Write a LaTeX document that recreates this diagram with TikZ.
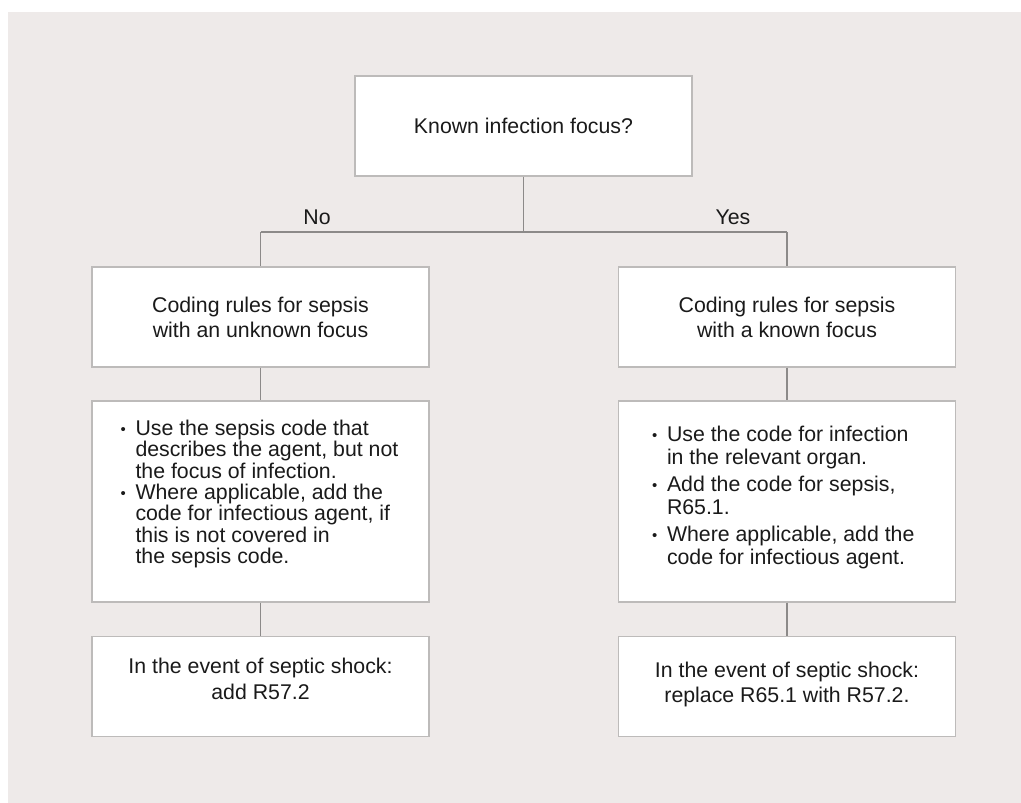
\documentclass[tikz,border=0pt]{standalone}
\usepackage{fontspec}
\setmainfont{Liberation Sans}
\definecolor{bg}{HTML}{EEEAE9}
\definecolor{boxline}{HTML}{BDBBBA}
\definecolor{conn}{HTML}{8C8A89}
\definecolor{txt}{HTML}{1A1A1A}
\newcommand{\bitem}[1]{\par\hangindent=15pt\hangafter=1\noindent\makebox[15pt][l]{\raisebox{1pt}{\scalebox{0.7}{\textbullet}}}#1}
\begin{document}
\begin{tikzpicture}[x=1pt,y=-1pt,
  box/.style={draw=boxline,line width=1.1pt,fill=white,text=txt,inner sep=0pt,
    font=\fontsize{21.3}{25}\selectfont},
  hbox/.style={box,minimum width=337pt,minimum height=100pt,align=center},
  lbox/.style={box,minimum width=337pt,minimum height=201pt},
  conn/.style={draw=conn,line width=1.1pt},
  lab/.style={text=txt,font=\fontsize{21.3}{25}\selectfont,inner sep=0pt},
  txtn/.style={lab,align=center}]
\useasboundingbox (0,0) rectangle (1021,803);
\fill[bg] (8,12) rectangle (1021,803);
\node[hbox] (top) at (523.5,126) {Known infection focus?};
\node[hbox] (l1) at (260.5,317) {Coding rules for sepsis\\with an unknown focus};
\node[hbox] (r1) at (787,317) {Coding rules for sepsis\\with a known focus};
\node[lbox] (l2) at (260.5,501.5) {};
\node[lbox] (r2) at (787,501.5) {};
\node[hbox] (l3) at (260.5,686.5) {};
\node[hbox] (r3) at (787,686.5) {};
\node[lab] (l2t) at (270.5,494) {\begin{minipage}{300pt}\fontsize{21.3}{21.4}\selectfont
\bitem{Use the sepsis code that\\describes the agent, but not\\the focus of infection.}
\bitem{Where applicable, add the\\code for infectious agent, if\\this is not covered in\\the sepsis code.}
\end{minipage}};
\node[lab] (r2t) at (787,497.5) {\begin{minipage}{270pt}\fontsize{21.3}{23}\selectfont\parskip=4pt
\bitem{Use the code for infection\\in the relevant organ.}
\bitem{Add the code for sepsis,\\R65.1.}
\bitem{Where applicable, add the\\code for infectious agent.}
\end{minipage}};
\node[txtn] (l3t) at (260.5,679) {In the event of septic shock:\\[1pt]add R57.2};
\node[txtn] (r3t) at (787,684) {In the event of septic shock:\\replace R65.1 with R57.2.};
\coordinate (j) at (523.5,232);
\coordinate (jl) at (260.5,232);
\coordinate (jr) at (787,232);
\draw[conn] (top.south) -- (j);
\draw[conn] (jl) -- (jr);
\draw[conn] (jl) -- (l1.north);
\draw[conn] (jr) -- (r1.north);
\draw[conn] (l1.south) -- (l2.north);
\draw[conn] (r1.south) -- (r2.north);
\draw[conn] (l2.south) -- (l3.north);
\draw[conn] (r2.south) -- (r3.north);
\node[lab] (no) at (317,217) {No};
\node[lab] (yes) at (733,217) {Yes};
\end{tikzpicture}
\end{document}
